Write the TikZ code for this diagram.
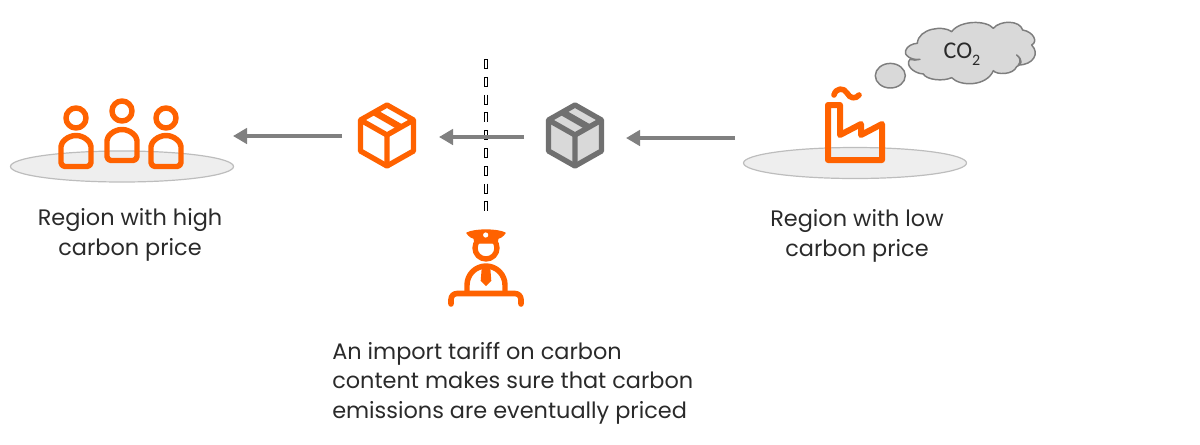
\documentclass[tikz,border=0pt]{standalone}
\usepackage{fontspec}
\setmainfont{Poppins}
\newfontfamily\cofont{Carlito}
\usetikzlibrary{arrows.meta}
\definecolor{ingorange}{HTML}{FF6200}
\definecolor{arrowgrey}{HTML}{808080}
\definecolor{boxgrey}{HTML}{707070}
\definecolor{boxfill}{HTML}{D9D9D9}
\definecolor{groundfill}{HTML}{EEEEEE}
\definecolor{groundline}{HTML}{BDBDBD}
\definecolor{labelink}{HTML}{2A2A2A}
\tikzset{
  x=0.75pt,y=-0.75pt,
  ground/.style={draw=groundline,fill=groundfill,line width=0.9pt},
  icon/.style={draw=ingorange,line width=4.1pt,line join=round,line cap=round},
  flow/.style={draw=arrowgrey,line width=3.5pt,-{Triangle[length=10.5pt,width=11.5pt]}},
  textlabel/.style={font=\fontsize{16.8pt}{22.2pt}\selectfont,text=labelink,inner sep=0pt},
  cloudshape/.style={draw=boxgrey!90,fill=boxfill,line width=1.1pt,line join=round},
}
\newcommand{\boxicon}[4]{%
  \begin{scope}[shift={(#1,#2)}]
    \draw[draw=#3,fill=#4,line width=4pt,line join=round]
      (0,-31)--(26.5,-16)--(26.5,15)--(0,30)--(-26.5,15)--(-26.5,-16)--cycle;
    \draw[draw=#3,line width=4pt,line join=round]
      (-26.5,-16)--(0,-1)--(26.5,-16) (0,-1)--(0,30);
    \draw[draw=#3,line width=5pt] (-13,-24)--(14,-8.5);
  \end{scope}}
% head x, head y, body arch centre y, body bottom y
\newcommand{\person}[4]{%
  \draw[icon] (#1,#2) circle (10);
  \draw[icon,rounded corners=3pt] (#1-15,#4) -- (#1+15,#4) -- (#1+15,#3)
     arc[start angle=0,end angle=-180,radius=15] -- cycle;}
\begin{document}
\begin{tikzpicture}
\useasboundingbox (0,0) rectangle (1200,444);
% grounds
\draw[ground] (122,166.5) ellipse (111.5 and 15.5);
\draw[ground] (855,163) ellipse (111.5 and 15.5);
% people
\person{76}{118}{150.5}{166.5}
\person{122}{111}{144.5}{160.5}
\person{166}{118}{150.5}{166.5}
% border
\coordinate (bordertop) at (486,59);
\coordinate (borderend) at (486,211);
\draw[black,line width=2.4pt,dash pattern=on 7.5pt off 5.85pt] (bordertop) -- (borderend);
\draw[white,line width=1pt,dash pattern=on 6.3pt off 7.05pt,dash phase=12.75pt] (bordertop) -- (borderend);
% packages
\boxicon{387}{136}{ingorange}{white}
\boxicon{575}{136}{boxgrey}{boxfill}
% flows
\coordinate (importstart) at (342,136);
\coordinate (importend) at (233,136);
\coordinate (borderstart) at (524,137);
\coordinate (borderendb) at (439,137);
\coordinate (exportstart) at (735,138);
\coordinate (exportend) at (626,138);
\draw[flow] (importstart) -- (importend);
\draw[flow] (borderstart) -- (borderendb);
\draw[flow] (exportstart) -- (exportend);
% factory
\draw[icon,line width=4.5pt] (828,160) -- (828,105) -- (840,105) -- (840,135) -- (861,124) -- (861,135) -- (882,124) -- (882,160) -- cycle;
\draw[icon,line width=4.2pt] (834,95) .. controls (836,87.5) and (844,87.5) .. (847,93) .. controls (850,99) and (856,99) .. (859,95);
% cloud
\draw[cloudshape] (890.3,75.7) ellipse (15 and 12.3);
\begin{scope}[shift={(730,0)},xscale=0.3333,yscale=0.3333]
\draw[cloudshape]
 (562,130) .. controls (565,85) and (640,75) .. (665,95)
 .. controls (690,60) and (770,60) .. (790,85)
 .. controls (810,60) and (870,60) .. (878,90)
 .. controls (910,95) and (925,125) .. (905,135)
 .. controls (930,160) and (910,195) .. (865,195)
 .. controls (875,185) and (870,172) .. (860,165)
 .. controls (880,180) and (875,195) .. (860,200)
 .. controls (850,225) and (800,225) .. (790,212)
 .. controls (770,260) and (690,260) .. (665,233)
 .. controls (640,245) and (590,240) .. (580,222)
 .. controls (550,220) and (525,195) .. (540,178)
 .. controls (550,182) and (560,180) .. (570,178)
 .. controls (545,182) and (520,165) .. (527,152)
 .. controls (530,138) and (550,130) .. (562,130) -- cycle;
\end{scope}
\node[font=\cofont\fontsize{18pt}{20pt}\selectfont,inner sep=0pt,text=labelink] (co2) at (962,54) {CO\raisebox{-0.3em}{\fontsize{12pt}{12pt}\selectfont 2}};
% officer
\draw[icon,line width=4pt] (486,248) circle (11);
\fill[ingorange,draw=ingorange,line width=1pt,line join=round] (467,233) .. controls (475,229) and (497,229) .. (505,233) .. controls (503,236) and (500,238) .. (498,238) -- (497,243) -- (475,243) -- (474,238) .. controls (472,238) and (469,236) .. (467,233) -- cycle;
\fill[white] (485.7,235) circle (2.6);
\draw[icon,line width=4.1pt,line cap=butt] (467,293) -- (467,285) arc[start angle=180,end angle=0,x radius=19,y radius=-19] -- (505,293);
\fill[ingorange] (481.7,268) -- (490.3,268) -- (491.3,280.7) -- (486,286) -- (480.7,280.7) -- cycle;
\draw[icon,line width=4.2pt,rounded corners=4.5pt] (451,304) -- (451,293.5) -- (521,293.5) -- (521,304);
% labels
\node[textlabel,align=center] (high) at (130,235) {Region with high\\carbon price};
\node[textlabel,align=center] (low) at (857,236) {Region with low\\carbon price};
\node[textlabel,align=left,anchor=north west] (tariff) at (332,342) {An import tariff on carbon\\content makes sure that carbon\\emissions are eventually priced};
\end{tikzpicture}
\end{document}
